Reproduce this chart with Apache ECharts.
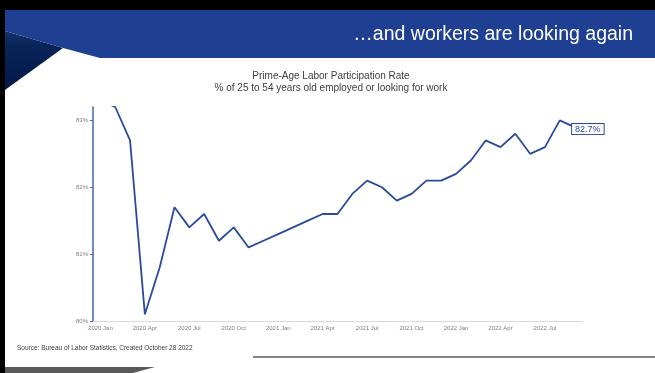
<!DOCTYPE html>
<html>
<head>
<meta charset="utf-8">
<title>Prime-Age Labor Participation Rate</title>
<script src="https://cdn.jsdelivr.net/npm/echarts@6/dist/echarts.min.js"></script>
<style>
  html, body { margin: 0; padding: 0; background: #ffffff; }
  #chart { width: 655px; height: 373px; }
</style>
</head>
<body>
<div id="chart"></div>
<script>
// Monthly prime-age (25-54) labor force participation rate, Jan 2020 - Sep 2022
const months = [
  '2020 Jan', '2020 Feb', '2020 Mar', '2020 Apr', '2020 May', '2020 Jun',
  '2020 Jul', '2020 Aug', '2020 Sep', '2020 Oct', '2020 Nov', '2020 Dec',
  '2021 Jan', '2021 Feb', '2021 Mar', '2021 Apr', '2021 May', '2021 Jun',
  '2021 Jul', '2021 Aug', '2021 Sep', '2021 Oct', '2021 Nov', '2021 Dec',
  '2022 Jan', '2022 Feb', '2022 Mar', '2022 Apr', '2022 May', '2022 Jun',
  '2022 Jul', '2022 Aug', '2022 Sep'
];
const participationRate = [
  83.1, 83.0, 82.5, 79.9, 80.6, 81.5, 81.2, 81.4, 81.0, 81.2, 80.9, 81.0,
  81.1, 81.2, 81.3, 81.4, 81.4, 81.7, 81.9, 81.8, 81.6, 81.7, 81.9, 81.9,
  82.0, 82.2, 82.5, 82.4, 82.6, 82.3, 82.4, 82.8, 82.7
];
// Value-axis ticks and the whole-percent labels printed beside them
const yTickValues = [79.8, 80.8, 81.8, 82.8];
const yTickLabels = ['80%', '81%', '82%', '83%'];
const yMin = 79.8;
const yMax = 83.0;

const lineBlue = '#2B4A9E';
const bannerBlue = '#1F3F93';
const textFont = '"Liberation Sans", Arial, sans-serif';

const lastIndex = participationRate.length - 1;
const seriesData = participationRate.map((v, i) => {
  if (i !== lastIndex) return v;
  return {
    value: v,
    symbol: 'circle',
    symbolSize: 1,
    label: {
      show: true,
      position: 'right',
      distance: 0,
      offset: [-3, 2],
      formatter: (p) => p.value.toFixed(1) + '%',
      color: lineBlue,
      fontSize: 9,
      fontFamily: textFont,
      backgroundColor: '#ffffff',
      borderColor: lineBlue,
      borderWidth: 1,
      padding: [1, 3, 0, 3]
    }
  };
});

const chart = echarts.init(document.getElementById('chart'), null, { renderer: 'canvas' });

chart.setOption({
  animation: false,
  backgroundColor: '#ffffff',
  grid: { left: 93, right: 73, top: 107, bottom: 52, containLabel: false },
  xAxis: {
    type: 'category',
    data: months,
    boundaryGap: true,
    axisLine: { show: true, lineStyle: { color: '#d9d9d9', width: 1 } },
    axisTick: { show: false },
    axisLabel: {
      interval: 2,
      color: '#7f7f7f',
      fontSize: 6,
      fontFamily: textFont,
      margin: 4
    },
    splitLine: { show: false }
  },
  yAxis: {
    type: 'value',
    min: yMin,
    max: yMax,
    axisLine: { show: true, lineStyle: { color: '#4466b0', width: 1.5 } },
    axisTick: {
      show: true,
      length: 3,
      customValues: yTickValues,
      lineStyle: { color: '#4466b0' }
    },
    axisLabel: {
      customValues: yTickValues,
      formatter: (v) => {
        const i = yTickValues.findIndex((t) => Math.abs(t - v) < 1e-6);
        return i >= 0 ? yTickLabels[i] : '';
      },
      color: '#7f7f7f',
      fontSize: 6,
      fontFamily: textFont,
      margin: 5
    },
    splitLine: { show: false }
  },
  series: [{
    type: 'line',
    data: seriesData,
    symbol: 'none',
    showSymbol: true,
    clip: true,
    lineStyle: { color: lineBlue, width: 1.8 },
    itemStyle: { color: lineBlue },
    z: 3
  }],
  graphic: [
    // slide frame: black strip along the top and left edge
    { type: 'rect', shape: { x: 0, y: 0, width: 655, height: 10 }, style: { fill: '#000000' }, z: 100 },
    { type: 'rect', shape: { x: 0, y: 0, width: 5, height: 373 }, style: { fill: '#000000' }, z: 100 },
    // header banner
    {
      type: 'polygon',
      shape: { points: [[5, 10], [655, 10], [655, 58], [100, 58], [63, 48], [5, 31]] },
      style: { fill: bannerBlue },
      z: 100
    },
    // folded navy corner on the left of the banner
    {
      type: 'polygon',
      shape: { points: [[5, 31], [63, 48], [5, 90]] },
      style: {
        fill: new echarts.graphic.LinearGradient(0, 0, 0, 1, [
          { offset: 0, color: '#15336f' },
          { offset: 0.25, color: '#0a2458' },
          { offset: 1, color: '#021a48' }
        ])
      },
      z: 101
    },
    {
      type: 'text',
      style: {
        x: 633, y: 35,
        text: '\u2026and workers are looking again',
        fill: '#ffffff',
        font: '19.5px ' + textFont,
        align: 'right',
        verticalAlign: 'middle'
      },
      z: 102
    },
    // chart titles
    {
      type: 'text',
      style: {
        x: 331, y: 76,
        text: 'Prime-Age Labor Participation Rate',
        fill: '#404040',
        font: '10px ' + textFont,
        align: 'center',
        verticalAlign: 'middle'
      },
      z: 102
    },
    {
      type: 'text',
      style: {
        x: 331, y: 88,
        text: '% of 25 to 54 years old employed or looking for work',
        fill: '#404040',
        font: '10px ' + textFont,
        align: 'center',
        verticalAlign: 'middle'
      },
      z: 102
    },
    // source note
    {
      type: 'text',
      style: {
        x: 17, y: 348,
        text: 'Source: Bureau of Labor Statistics, Created October 28 2022',
        fill: '#404040',
        font: '6.5px ' + textFont,
        align: 'left',
        verticalAlign: 'middle'
      },
      z: 102
    },
    // footer decorations
    {
      type: 'polygon',
      shape: { points: [[5, 367], [155, 367], [133, 373], [5, 373]] },
      style: { fill: '#595959' },
      z: 100
    },
    {
      type: 'line',
      shape: { x1: 253, y1: 357, x2: 655, y2: 357 },
      style: { stroke: '#595959', lineWidth: 1.5 },
      z: 100
    }
  ]
});
</script>
</body>
</html>
